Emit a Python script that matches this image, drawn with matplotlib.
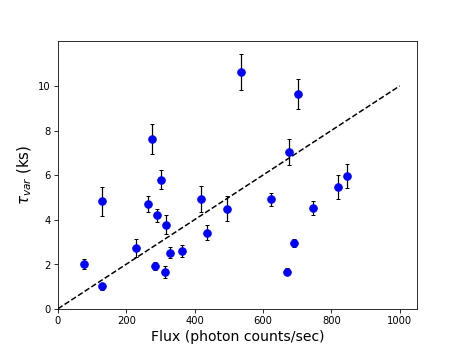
import numpy as np
import matplotlib
matplotlib.use('Agg')
import matplotlib.pyplot as plt

# flux values and variability timescales
flux = [77, 128, 130, 230, 264, 276, 283, 290, 302, 317, 314, 328, 362, 419, 437,
        495, 536, 625, 671, 676, 692, 702, 747, 820, 847]
tau = [2.01, 1.02, 4.82, 2.73, 4.70, 7.63, 1.91, 4.20, 5.80, 3.78, 1.64, 2.52, 2.61,
       4.92, 3.41, 4.50, 10.63, 4.91, 1.67, 7.04, 2.96, 9.64, 4.53, 5.46, 5.96]
tau_err = [0.22, 0.16, 0.66, 0.39, 0.35, 0.68, 0.18, 0.30, 0.44, 0.41, 0.26, 0.25, 0.27,
           0.57, 0.34, 0.55, 0.80, 0.29, 0.16, 0.60, 0.17, 0.67, 0.32, 0.54, 0.53]

fig = plt.figure(figsize=(6.4, 4.8), dpi=72.35)

plt.errorbar(flux, tau, yerr=tau_err, fmt='o', color='blue', ecolor='black',
             capsize=2, markersize=7.5, elinewidth=1.2)

# reference line
line_x = np.array([0, 1000])
plt.plot(line_x, line_x / 100.0, 'k--', linewidth=1.5)

plt.xlim(0, 1050)
plt.ylim(0, 12)
plt.yticks([0, 2, 4, 6, 8, 10])
plt.xlabel('Flux (photon counts/sec)', fontsize=14)
plt.ylabel(r'$\tau_{var}$ (ks)', fontsize=15)

plt.savefig('out.png', dpi=72.35)
